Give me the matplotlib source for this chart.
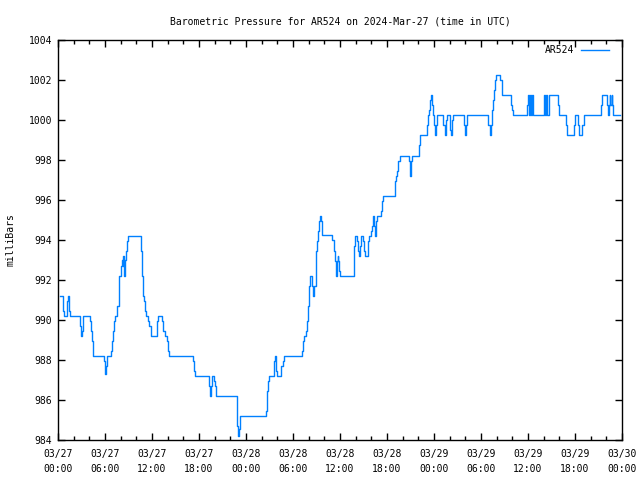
import matplotlib
matplotlib.use("Agg")
import matplotlib.pyplot as plt
from matplotlib.ticker import MultipleLocator

# hours since 2024-03-27 00:00 UTC and pressure (mb), step data
hours = [0.26, 0.60, 0.68, 0.77, 1.15, 1.28, 1.37, 1.44, 1.53, 2.85, 2.94, 3.03, 3.15,
         4.12, 4.21, 4.30, 4.43, 4.51, 5.83, 5.96, 6.00, 6.13, 6.26, 6.77, 6.89, 7.02,
         7.15, 7.28, 7.53, 7.75, 7.83, 8.08, 8.21, 8.26, 8.34, 8.43, 8.52, 8.59, 8.72,
         8.85, 8.97, 10.56, 10.72, 10.85, 11.02, 11.15, 11.27, 11.45, 11.58, 11.83,
         12.68, 12.81, 13.32, 13.40, 13.66, 13.95, 14.08, 14.21, 17.27, 17.40, 17.49,
         19.32, 19.44, 19.53, 19.70, 19.95, 20.04, 20.17, 22.81, 22.89, 23.02, 23.11,
         23.20, 23.27, 26.52, 26.64, 26.72, 26.85, 26.94, 27.61, 27.70, 27.79, 27.87,
         27.96, 28.51, 28.69, 28.81, 31.19, 31.32, 31.44, 31.62, 31.75, 31.88, 32.01,
         32.13, 32.43, 32.55, 32.72, 32.90, 32.98, 33.10, 33.23, 33.32, 33.45, 33.58,
         33.70, 33.74, 35.02, 35.20, 35.36, 35.45, 35.53, 35.62, 35.70, 35.78, 35.87,
         36.00, 37.75, 37.83, 37.92, 38.21, 38.30, 38.43, 38.52, 38.64, 38.98, 39.06,
         39.23, 39.54, 39.62, 39.74, 39.96, 40.05, 40.18, 40.26, 40.35, 40.43, 40.51,
         40.60, 40.72, 41.24, 41.32, 41.53, 42.99, 43.06, 43.19, 43.32, 43.44, 43.62,
         44.81, 44.90, 44.98, 45.07, 45.19, 46.05, 46.13, 46.21, 47.11, 47.23, 47.40,
         47.49, 47.62, 47.74, 47.87, 47.96, 48.08, 48.16, 48.25, 48.38, 49.19, 49.40,
         49.53, 49.62, 50.00, 50.08, 50.17, 50.26, 50.47, 51.83, 51.96, 52.09, 52.21,
         54.93, 55.15, 55.28, 55.41, 55.49, 55.66, 55.79, 55.92, 56.47, 56.64, 56.73,
         57.87, 57.96, 58.05, 59.92, 60.00, 60.13, 60.26, 60.42, 60.55, 60.68, 62.00,
         62.13, 62.26, 62.39, 62.64, 63.87, 64.00, 64.85, 64.98, 65.91, 66.04, 66.42,
         66.55, 66.90, 67.15, 69.28, 69.40, 70.04, 70.21, 70.30, 70.42, 70.50, 70.68,
         70.76, 70.85, 71.74]
pressure = [991.2, 990.95, 990.45, 990.2, 990.95, 991.2, 990.95, 990.45, 990.2, 989.7, 989.2, 989.45, 990.2,
            989.95, 989.45, 988.95, 988.45, 988.2, 987.95, 987.45, 987.3, 987.7, 988.2, 988.45, 988.95, 989.45,
            989.95, 990.2, 990.7, 991.7, 992.2, 992.7, 993.0, 992.7, 993.2, 992.2, 992.7, 993.0, 993.45,
            993.95, 994.2, 993.45, 992.2, 991.2, 990.95, 990.45, 990.2, 989.95, 989.7, 989.2,
            989.95, 990.2, 989.95, 989.45, 989.2, 988.95, 988.45, 988.2, 987.95, 987.45, 987.2,
            986.7, 986.2, 986.7, 987.2, 986.95, 986.7, 986.2, 985.7, 984.7, 984.2, 984.55,
            985.05, 985.2, 985.45, 985.95, 986.45, 986.95, 987.2, 987.95, 988.2, 987.95, 987.45,
            987.2, 987.7, 987.95, 988.2, 988.45, 988.95, 989.2, 989.45, 989.95, 990.7, 991.7,
            992.2, 991.7, 991.2, 991.7, 992.7, 993.45, 993.95, 994.45, 994.95, 995.2, 994.95,
            994.45, 994.25, 994.0, 993.45, 992.95, 992.45, 992.2, 992.95, 993.2, 992.95, 992.45,
            992.2, 992.7, 993.7, 994.2, 993.95, 993.45, 993.2, 993.7, 994.2, 993.95, 993.45,
            993.2, 993.45, 993.95, 994.2, 994.45, 994.7, 994.95, 995.2, 994.7, 994.45, 994.2,
            994.95, 995.2, 995.45, 995.95, 996.2, 996.45, 996.95, 997.2, 997.45, 997.95, 998.2,
            997.95, 997.45, 997.2, 997.95, 998.2, 998.45, 998.75, 999.25, 999.75, 1000.25, 1000.5,
            1001.0, 1001.25, 1000.75, 1000.25, 999.75, 999.5, 999.25, 999.75, 1000.25, 999.75, 999.25,
            1000.0, 1000.25, 1000.0, 999.5, 999.25, 1000.0, 1000.25, 999.75, 999.25, 999.75, 1000.25,
            999.75, 999.25, 999.75, 1000.5, 1001.0, 1001.5, 1002.0, 1002.25, 1002.0, 1001.5, 1001.25,
            1000.75, 1000.5, 1000.25, 1000.75, 1001.25, 1000.25, 1001.25, 1000.25, 1001.25, 1000.25, 1001.25,
            1000.25, 1001.25, 1000.25, 1001.25, 1000.75, 1000.25, 999.75, 999.25, 999.75, 1000.25, 999.75,
            999.25, 999.75, 1000.25, 1000.75, 1001.25, 1000.75, 1000.25, 1000.75, 1001.25, 1000.75, 1001.25,
            1000.75, 1000.25, 1000.25]

xtick_hours = [0, 6, 12, 18, 24, 30, 36, 42, 48, 54, 60, 66, 72]
xtick_labels = ["03/27\n00:00", "03/27\n06:00", "03/27\n12:00", "03/27\n18:00",
                "03/28\n00:00", "03/28\n06:00", "03/28\n12:00", "03/28\n18:00",
                "03/29\n00:00", "03/29\n06:00", "03/29\n12:00", "03/29\n18:00",
                "03/30\n00:00"]

plt.rcParams['font.family'] = ['DejaVu Sans Mono']
plt.rcParams['font.size'] = 7

fig = plt.figure(figsize=(6.4, 4.8), dpi=100)
ax = fig.add_axes([58/640, 40/480, 564/640, 400/480])

ax.plot(hours, pressure, drawstyle='steps-post', color='#0080ff', lw=1.0, label='AR524')

ax.set_xlim(0, 72)
ax.set_ylim(984, 1004)
ax.set_xticks(xtick_hours)
ax.set_xticklabels(xtick_labels, linespacing=1.6)
ax.xaxis.set_minor_locator(MultipleLocator(2))
ax.yaxis.set_major_locator(MultipleLocator(2))
ax.tick_params(which='both', direction='in', top=True, right=True, color='black', width=1)
ax.tick_params(which='major', length=5, pad=4)
ax.tick_params(axis='x', which='major', pad=6.5)
ax.tick_params(which='minor', length=3)
for s in ax.spines.values():
    s.set_linewidth(1)

ax.set_ylabel('milliBars', labelpad=10)
ax.set_title('Barometric Pressure for AR524 on 2024-Mar-27 (time in UTC)', fontsize=7, pad=11.5)
ax.legend(loc='upper right', frameon=False, markerfirst=False, handlelength=2.9,
          borderaxespad=0.55, handletextpad=0.7, fontsize=7,
          bbox_to_anchor=(1 - 4/564, 1 + 4/400))

fig.savefig('out.png', dpi=100)
